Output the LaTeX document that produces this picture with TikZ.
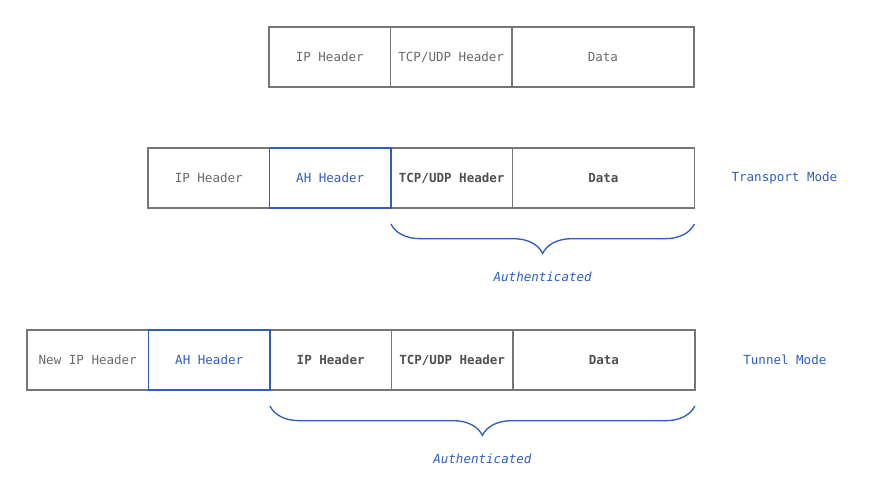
\documentclass[tikz,border=0pt]{standalone}
\usepackage{fontspec}
\setmonofont{DejaVu Sans Mono}
\usetikzlibrary{positioning, chains, decorations.pathreplacing}
\definecolor{boxgray}{RGB}{118,118,118}
\definecolor{txtgray}{RGB}{105,105,105}
\definecolor{txtdark}{RGB}{80,80,80}
\definecolor{ahblue}{RGB}{47,94,190}

\begin{document}
\begin{tikzpicture}[x=1pt, y=1pt, node distance=0pt,
    cell/.style={rectangle, draw=boxgray, line width=1.1pt, outer sep=0pt,
      minimum height=45pt, minimum width=91.1pt, text=txtgray,
      font=\ttfamily\fontsize{9.4}{11}\selectfont},
    wide/.style={cell, minimum width=136.5pt},
    inner/.style={text=txtdark, font=\ttfamily\bfseries\fontsize{9.4}{11}\selectfont},
    ah/.style={cell, draw=none, text=ahblue},
    ahframe/.style={draw=ahblue, line width=1.1pt},
    mode/.style={text=ahblue, font=\ttfamily\fontsize{9.4}{11}\selectfont},
    authbrace/.style={draw=ahblue, line width=1pt, decorate,
      decoration={brace, mirror, amplitude=22pt}},
    auth/.style={text=ahblue, font=\ttfamily\itshape\fontsize{9.4}{11}\selectfont}]

  \useasboundingbox (0,0) rectangle (656.25,-366.75);

  % original packet
  \begin{scope}[start chain=orig going right]
    \node[cell, on chain, anchor=west] (oip) at (201.75,-42.75) {IP Header};
    \node[cell, on chain] (otcp) {TCP/UDP Header};
    \node[wide, on chain] (odata) {Data};
  \end{scope}

  % transport mode
  \begin{scope}[start chain=tr going right]
    \node[cell, on chain, anchor=west] (tip) at (111,-133.5) {IP Header};
    \node[ah, on chain] (tah) {AH Header};
    \node[cell, inner, on chain] (ttcp) {TCP/UDP Header};
    \node[wide, inner, on chain] (tdata) {Data};
  \end{scope}
  \draw[ahframe] (tah.north west) rectangle (tah.south east);
  \node[mode] (trmode) at ([xshift=67.5pt]tdata.east) {Transport Mode};
  \draw[authbrace] ([yshift=-12pt]ttcp.south west) -- ([yshift=-12pt]tdata.south east)
    node[auth, midway, yshift=-39.75pt] (tauth) {Authenticated};

  % tunnel mode
  \begin{scope}[start chain=tu going right]
    \node[cell, on chain, anchor=west] (nip) at (20.25,-270) {New IP Header};
    \node[ah, on chain] (uah) {AH Header};
    \node[cell, inner, on chain] (uip) {IP Header};
    \node[cell, inner, on chain] (utcp) {TCP/UDP Header};
    \node[wide, inner, on chain] (udata) {Data};
  \end{scope}
  \draw[ahframe] (uah.north west) rectangle (uah.south east);
  \node[mode] (tumode) at ([xshift=67.5pt]udata.east) {Tunnel Mode};
  \draw[authbrace] ([yshift=-12pt]uip.south west) -- ([yshift=-12pt]udata.south east)
    node[auth, midway, yshift=-39.75pt] (uauth) {Authenticated};
\end{tikzpicture}
\end{document}
